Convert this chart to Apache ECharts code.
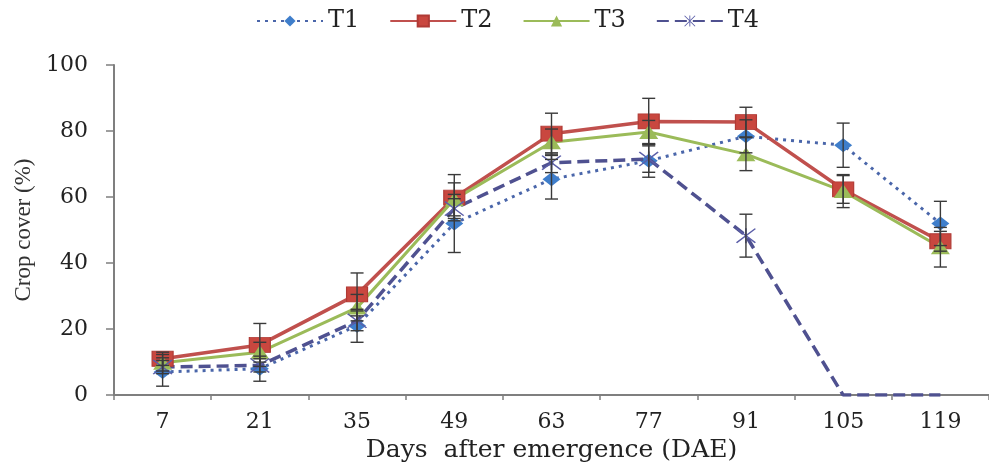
<!DOCTYPE html>
<html>
<head>
<meta charset="utf-8">
<script src="https://cdn.jsdelivr.net/npm/echarts@6/dist/echarts.min.js"></script>
<style>html,body{margin:0;padding:0;background:#fff}#c{width:989px;height:468px}</style>
</head>
<body>
<div id="c"></div>
<script>
// ---- data ----
const categories = ['7', '21', '35', '49', '63', '77', '91', '105', '119'];
const seriesNames = ['T1', 'T2', 'T3', 'T4'];
const t1 = [7.0, 8.0, 21.0, 52.0, 65.4, 71.0, 78.4, 75.7, 52.0];
const t1Err = [4.3, 3.8, 5.0, 8.8, 6.0, 5.0, 5.0, 6.7, 6.7];
const t2 = [11.0, 15.2, 30.5, 59.8, 79.2, 82.9, 82.7, 62.3, 46.6];
const t2Err = [2.0, 6.5, 6.5, 7.0, 6.2, 7.0, 4.5, 4.2, 3.0];
const t3 = [9.8, 13.0, 26.5, 59.3, 76.6, 79.7, 73.0, 61.8, 44.8];
const t3Err = [2.5, 3.0, 4.0, 5.0, 4.0, 3.5, 5.0, 5.0, 6.0];
const t4 = [8.5, 9.0, 22.5, 56.5, 70.4, 71.5, 48.3, 0, 0];
const t4Err = [2.0, 2.0, 3.0, 3.0, 3.0, 4.0, 6.5, 0, 0];
const yTicks = { min: 0, max: 100, interval: 20 };

const starPath = 'path://M46,0L54,0L54,100L46,100Z M0,6L6,0L100,94L94,100Z M94,0L100,6L6,100L0,94Z';

function errSeries(name, vals, errs) {
  return {
    name: name + ' err',
    type: 'custom',
    z: 4,
    silent: true,
    data: vals.map((v, i) => [i, v, errs[i]]).filter(d => d[2] > 0),
    renderItem: function (params, api) {
      const i = api.value(0), v = api.value(1), e = api.value(2);
      const top = api.coord([i, v + e]);
      const bot = api.coord([i, v - e]);
      const hw = 6.5;
      const st = { stroke: '#3a3a3a', lineWidth: 1.4 };
      return {
        type: 'group',
        children: [
          { type: 'line', shape: { x1: top[0], y1: top[1], x2: bot[0], y2: bot[1] }, style: st },
          { type: 'line', shape: { x1: top[0] - hw, y1: top[1], x2: top[0] + hw, y2: top[1] }, style: st },
          { type: 'line', shape: { x1: bot[0] - hw, y1: bot[1], x2: bot[0] + hw, y2: bot[1] }, style: st }
        ]
      };
    }
  };
}

const chart = echarts.init(document.getElementById('c'));
const serif = 'DejaVu Serif';
chart.setOption({
  animation: false,
  backgroundColor: '#fff',
  legend: {
    data: seriesNames,
    left: 251,
    top: 4,
    itemWidth: 66,
    itemHeight: 14,
    itemGap: 30,
    textStyle: { fontFamily: serif, fontSize: 24, color: '#222' }
  },
  grid: { left: 114, top: 65, width: 879, height: 332 },
  xAxis: {
    type: 'category',
    data: categories,
    boundaryGap: true,
    name: 'Days  after emergence (DAE)',
    nameLocation: 'middle',
    nameGap: 37,
    nameTextStyle: { fontFamily: serif, fontSize: 25, color: '#222' },
    axisLine: { show: true, lineStyle: { color: '#7f7f7f', width: 2 } },
    axisTick: { show: true, inside: false, length: 5, lineStyle: { color: '#7f7f7f', width: 1.5 } },
    axisLabel: { fontFamily: serif, fontSize: 22, color: '#222', margin: 16 },
    splitLine: { show: false }
  },
  yAxis: {
    type: 'value',
    min: yTicks.min, max: yTicks.max, interval: yTicks.interval,
    name: 'Crop cover (%)',
    nameLocation: 'middle',
    nameRotate: 90,
    nameGap: 68,
    nameTextStyle: { fontFamily: 'Liberation Serif', fontSize: 23, color: '#333' },
    axisLine: { show: true, lineStyle: { color: '#7f7f7f', width: 2 } },
    axisTick: { show: true, inside: false, length: 8, lineStyle: { color: '#7f7f7f', width: 1.5 } },
    axisLabel: { fontFamily: serif, fontSize: 22, color: '#222', margin: 26 },
    splitLine: { show: false }
  },
  series: [
    {
      name: 'T1', type: 'line', data: t1, z: 2,
      symbol: 'diamond', symbolSize: [18, 14], showAllSymbol: true,
      itemStyle: { color: '#3f7ecb' },
      lineStyle: { color: '#4a66aa', width: 3, type: [3, 5] }
    },
    errSeries('T1', t1, t1Err),
    {
      name: 'T2', type: 'line', data: t2, z: 3,
      symbol: 'rect', symbolSize: [21, 15], showAllSymbol: true,
      itemStyle: { color: '#c9473f', borderColor: '#b03a35', borderWidth: 1 },
      lineStyle: { color: '#c0504d', width: 3.5 }
    },
    errSeries('T2', t2, t2Err),
    {
      name: 'T3', type: 'line', data: t3, z: 3,
      symbol: 'triangle', symbolSize: [19, 14], showAllSymbol: true,
      itemStyle: { color: '#9bbb59' },
      lineStyle: { color: '#9bbb59', width: 3 }
    },
    errSeries('T3', t3, t3Err),
    {
      name: 'T4', type: 'line', z: 3,
      data: t4.map(v => v === 0 ? { value: v, symbol: 'none' } : v),
      symbol: starPath, symbolSize: [20, 15], showAllSymbol: true,
      itemStyle: { color: '#5b5ea8' },
      lineStyle: { color: '#4f5190', width: 3.5, type: [12, 6] }
    },
    errSeries('T4', t4, t4Err)
  ]
});
</script>
</body>
</html>
